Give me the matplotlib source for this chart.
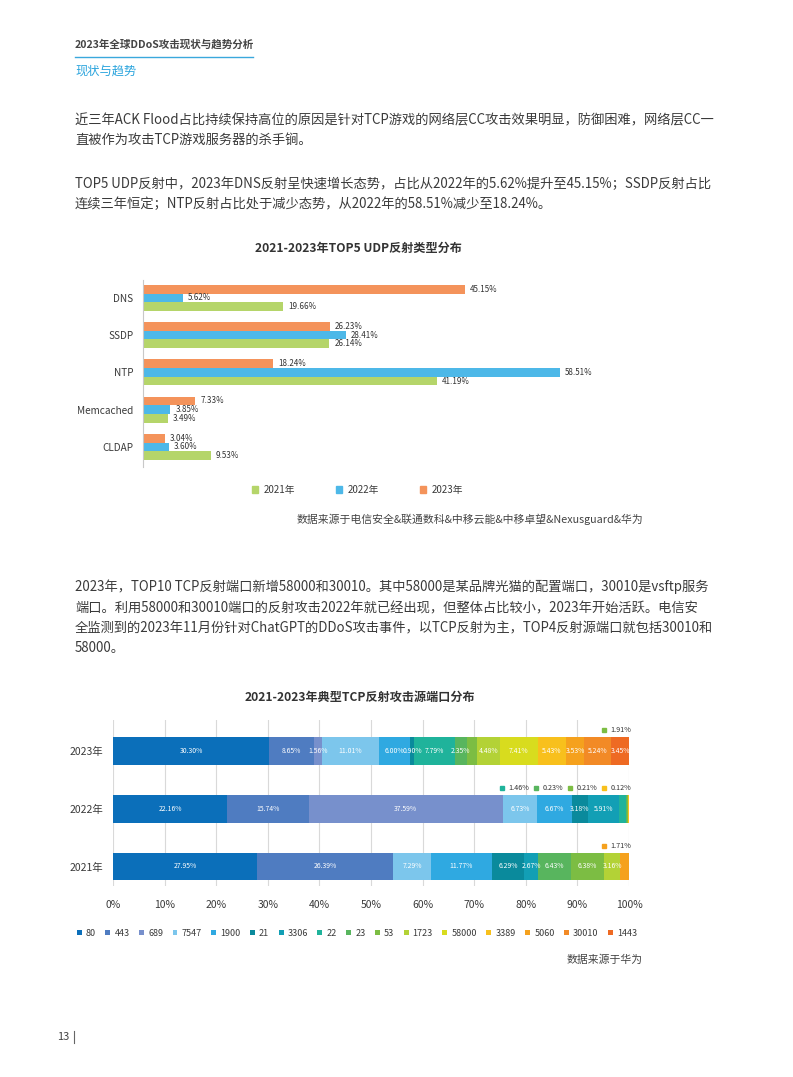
import numpy as np
import matplotlib
matplotlib.use('Agg')
import matplotlib.pyplot as plt
from matplotlib.patches import Patch

plt.rcParams['font.family'] = ['Noto Sans CJK SC', 'DejaVu Sans']

W, H = 793, 1077

# ---- top chart data: TOP5 UDP reflection types ----
udp_types = ['DNS', 'SSDP', 'NTP', 'Memcached', 'CLDAP']
udp_2021 = [19.66, 26.14, 41.19, 3.49, 9.53]
udp_2022 = [5.62, 28.41, 58.51, 3.85, 3.60]
udp_2023 = [45.15, 26.23, 18.24, 7.33, 3.04]
udp_labels_2022 = ['5.62%', '28.41%', '58.51%', '3.85%', '3.60%']

# ---- bottom chart data: TCP reflection source ports ----
ports = ['80', '443', '689', '7547', '1900', '21', '3306', '22', '23', '53',
         '1723', '58000', '3389', '5060', '30010', '1443']
years = ['2023年', '2022年', '2021年']
share_2023 = [30.30, 8.65, 1.56, 11.01, 6.00, 0.90, 0, 7.79, 2.35, 1.91,
              4.48, 7.41, 5.43, 3.53, 5.24, 3.45]
share_2022 = [22.16, 15.74, 37.59, 6.73, 6.67, 3.18, 5.91, 1.46, 0.23, 0.21,
              0, 0, 0.12, 0, 0, 0]
share_2021 = [27.95, 26.39, 0, 7.29, 11.77, 6.29, 2.67, 0, 6.43, 6.38,
              3.16, 0, 0, 1.71, 0, 0]
outside_2023 = ['53']
outside_2022 = ['22', '23', '53', '3389']
outside_2021 = ['5060']
x_ticks = [0, 10, 20, 30, 40, 50, 60, 70, 80, 90, 100]

port_colors = ['#0b6fba', '#4f7cc1', '#7790cc', '#7cc6ec', '#2fa9e1', '#0a8a9c',
               '#129fb5', '#1fb39b', '#58b55e', '#7cbd43', '#b3d236', '#d8dc1e',
               '#f8c01c', '#f5a11d', '#f28a26', '#ee6a23']

TEXT = '#3a3a3a'


def fx(x):
    return x / W


def fy(y):
    return 1 - y / H


def px_axes(left, top, right, bottom):
    return fig.add_axes([fx(left), fy(bottom), (right - left) / W, (bottom - top) / H])


fig = plt.figure(figsize=(W / 100, H / 100), dpi=100)

# ---- page header ----
fig.text(fx(75), fy(44), '2023年全球DDoS攻击现状与趋势分析', fontsize=7.6,
         fontweight='bold', color='#444444', va='center')
fig.add_artist(plt.Line2D([fx(75), fx(253)], [fy(57), fy(57)], color='#3aa8dc', lw=1))
fig.text(fx(75), fy(71), '现状与趋势', fontsize=8.8, color='#2aa4dd', va='center')

body = [
    (120, '近三年ACK Flood占比持续保持高位的原因是针对TCP游戏的网络层CC攻击效果明显，防御困难，网络层CC一'),
    (140, '直被作为攻击TCP游戏服务器的杀手锏。'),
    (184, 'TOP5 UDP反射中，2023年DNS反射呈快速增长态势，占比从2022年的5.62%提升至45.15%；SSDP反射占比'),
    (204, '连续三年恒定；NTP反射占比处于减少态势，从2022年的58.51%减少至18.24%。'),
    (587, '2023年，TOP10 TCP反射端口新增58000和30010。其中58000是某品牌光猫的配置端口，30010是vsftp服务'),
    (608, '端口。利用58000和30010端口的反射攻击2022年就已经出现，但整体占比较小，2023年开始活跃。电信安'),
    (628, '全监测到的2023年11月份针对ChatGPT的DDoS攻击事件，以TCP反射为主，TOP4反射源端口就包括30010和'),
    (648, '58000。'),
]
for y, line in body:
    fig.text(fx(75), fy(y), line, fontsize=9.55, color=TEXT, va='center')

# ---- top chart ----
fig.text(fx(358), fy(248), '2021-2023年TOP5 UDP反射类型分布', fontsize=8.7,
         fontweight='bold', color='#333333', ha='center', va='center')

ax1 = px_axes(143, 280, 650, 467)
yy = np.arange(len(udp_types))
bh = 0.233
c21, c22, c23 = '#b5d56a', '#4db8e8', '#f4935b'
ax1.barh(yy - bh, udp_2023, height=bh, color=c23)
ax1.barh(yy, udp_2022, height=bh, color=c22)
ax1.barh(yy + bh, udp_2021, height=bh, color=c21)
for i in range(len(udp_types)):
    ax1.text(udp_2023[i] + 0.7, yy[i] - bh, f'{udp_2023[i]:.2f}%', fontsize=5.8,
             color='#333333', va='center')
    ax1.text(udp_2022[i] + 0.7, yy[i], udp_labels_2022[i], fontsize=5.8,
             color='#333333', va='center')
    ax1.text(udp_2021[i] + 0.7, yy[i] + bh, f'{udp_2021[i]:.2f}%', fontsize=5.8,
             color='#333333', va='center')
ax1.set_xlim(0, 71.1)
ax1.set_ylim(4.54, -0.48)
ax1.set_yticks(yy)
ax1.set_yticklabels(udp_types, fontsize=7.2, color=TEXT)
ax1.tick_params(axis='y', length=0, pad=7)
ax1.set_xticks([])
for s in ['top', 'right', 'bottom']:
    ax1.spines[s].set_visible(False)
ax1.spines['left'].set_color('#c8c8c8')
ax1.spines['left'].set_linewidth(0.8)
ax1.patch.set_alpha(0)

h1 = [Patch(color=c21, label='2021年'), Patch(color=c22, label='2022年'),
      Patch(color=c23, label='2023年')]
fig.legend(handles=h1, loc='center', bbox_to_anchor=(fx(358), fy(490)), ncol=3,
           frameon=False, fontsize=7, handlelength=0.6, handleheight=0.6,
           handletextpad=0.6, columnspacing=4.2, labelcolor=TEXT)

fig.text(fx(643), fy(519), '数据来源于电信安全&联通数科&中移云能&中移卓望&Nexusguard&华为',
         fontsize=7.8, color='#444444', ha='right', va='center')

# ---- bottom chart ----
fig.text(fx(360), fy(697), '2021-2023年典型TCP反射攻击源端口分布', fontsize=8.7,
         fontweight='bold', color='#333333', ha='center', va='center')

ax2 = px_axes(113, 720, 629, 886)
shares = np.array([share_2023, share_2022, share_2021])
outside = [outside_2023, outside_2022, outside_2021]
yb = np.arange(len(years))
left = np.zeros(len(years))
for j, p in enumerate(ports):
    vals = shares[:, j]
    ax2.barh(yb, vals, left=left, height=0.48, color=port_colors[j], label=p)
    for i in range(len(years)):
        if vals[i] > 0 and p not in outside[i]:
            ax2.text(left[i] + vals[i] / 2, yb[i], f'{vals[i]:.2f}%', fontsize=4.9,
                     color='white', ha='center', va='center')
    left = left + vals

# small shares shown as callouts above the bar
for i in range(len(years)):
    for k, p in enumerate(reversed(outside[i])):
        j = ports.index(p)
        xm = 95.2 - k * 6.6
        ax2.plot([xm], [yb[i] - 0.36], marker='s', ms=3, color=port_colors[j],
                 clip_on=False, lw=0)
        ax2.text(xm + 1.2, yb[i] - 0.36, f'{shares[i, j]:.2f}%', fontsize=5.2,
                 color='#333333', va='center')

ax2.set_xlim(0, 100)
ax2.set_ylim(2.338, -0.537)
ax2.set_xticks(x_ticks)
ax2.set_xticklabels([f'{t}%' for t in x_ticks], fontsize=7.5, color=TEXT)
ax2.set_yticks(yb)
ax2.set_yticklabels(years, fontsize=7.5, color=TEXT)
ax2.tick_params(axis='both', length=0)
ax2.tick_params(axis='x', pad=10)
ax2.tick_params(axis='y', pad=7)
ax2.grid(axis='x', color='#d9d9d9', lw=0.8)
ax2.set_axisbelow(True)
for s in ax2.spines.values():
    s.set_visible(False)
ax2.patch.set_alpha(0)

h2, l2 = ax2.get_legend_handles_labels()
fig.legend(h2, l2, loc='center', bbox_to_anchor=(fx(357), fy(933)), ncol=16,
           frameon=False, fontsize=6.5, handlelength=0.55, handleheight=0.55,
           handletextpad=0.45, columnspacing=1.05, labelcolor=TEXT)

fig.text(fx(643), fy(960), '数据来源于华为', fontsize=7.8, color='#444444',
         ha='right', va='center')

# ---- page number ----
fig.text(fx(57), fy(1037), '13', fontsize=8, color='#444444', va='center')
fig.add_artist(plt.Line2D([fx(74), fx(74)], [fy(1031), fy(1043)], color='#666666', lw=0.8))

fig.savefig('out.png', dpi=100)
